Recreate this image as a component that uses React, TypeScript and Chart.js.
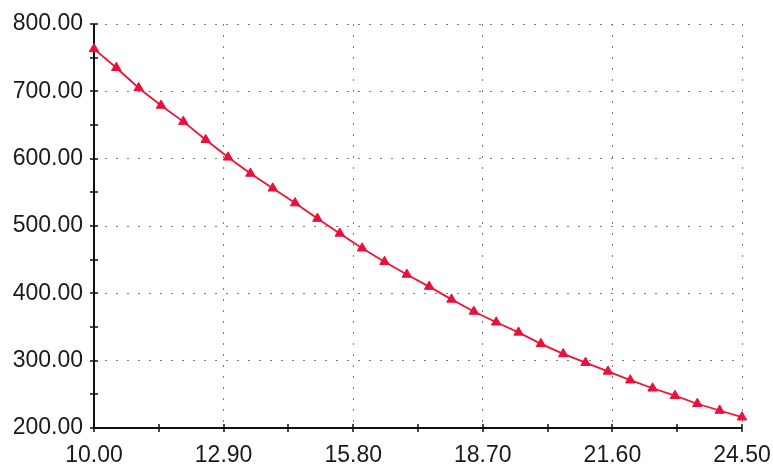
import React, { useEffect, useRef } from "react";
import { Chart, registerables } from "chart.js";

Chart.register(...registerables);

const xValues = [10, 10.5, 11, 11.5, 12, 12.5, 13, 13.5, 14, 14.5, 15, 15.5, 16, 16.5, 17, 17.5, 18, 18.5, 19, 19.5, 20, 20.5, 21, 21.5, 22, 22.5, 23, 23.5, 24, 24.5];
const yValues = [763, 735, 705, 679, 655, 628, 602, 578, 556, 534, 511, 489, 467, 447, 428, 410, 391, 373, 357, 342, 325, 310, 297, 284, 271, 259, 248, 236, 226, 216];
const xTicks = [10, 12.9, 15.8, 18.7, 21.6, 24.5];
const yTicks = [200, 300, 400, 500, 600, 700, 800];

const W = 773;
const H = 466;

const axisPlugin = {
  id: "axisPlugin",
  beforeDatasetsDraw(chart: any) {
    const { ctx, chartArea, scales } = chart;
    const xs = scales.x;
    const ys = scales.y;
    ctx.save();
    ctx.strokeStyle = "#111";
    ctx.lineWidth = 2;
    ctx.beginPath();
    ctx.moveTo(chartArea.left, chartArea.top);
    ctx.lineTo(chartArea.left, chartArea.bottom);
    ctx.lineTo(chartArea.right, chartArea.bottom);
    ctx.stroke();
    ctx.lineWidth = 1.5;
    const half = 4;
    const xv: number[] = [];
    for (let i = 0; i < xTicks.length; i++) {
      xv.push(xTicks[i]);
      if (i < xTicks.length - 1) xv.push((xTicks[i] + xTicks[i + 1]) / 2);
    }
    ctx.beginPath();
    for (const v of xv) {
      const px = Math.round(xs.getPixelForValue(v));
      ctx.moveTo(px, chartArea.bottom - half);
      ctx.lineTo(px, chartArea.bottom + half);
    }
    const yv: number[] = [];
    for (let i = 0; i < yTicks.length; i++) {
      yv.push(yTicks[i]);
      if (i < yTicks.length - 1) yv.push((yTicks[i] + yTicks[i + 1]) / 2);
    }
    for (const v of yv) {
      const py = Math.round(ys.getPixelForValue(v));
      ctx.moveTo(chartArea.left - half, py);
      ctx.lineTo(chartArea.left + half, py);
    }
    ctx.stroke();
    ctx.restore();
  },
};

const zeroPad = (s: any) => {
  s.paddingLeft = 0;
  s.paddingRight = 0;
  s.paddingTop = 0;
  s.paddingBottom = 0;
};

export default function App() {
  const ref = useRef<HTMLCanvasElement | null>(null);
  useEffect(() => {
    if (!ref.current) return;
    const font = { family: "'Liberation Sans', Arial, sans-serif", size: 23 };
    const chart = new Chart(ref.current, {
      type: "line",
      data: {
        datasets: [
          {
            data: xValues.map((x, i) => ({ x, y: yValues[i] })),
            borderColor: "#f21232",
            backgroundColor: "#e8103c",
            borderWidth: 1.8,
            pointStyle: "triangle",
            pointRadius: 5.5,
            pointBorderWidth: 1,
            pointBorderColor: "#e8103c",
            pointBackgroundColor: "#e8103c",
            tension: 0,
            clip: false,
          } as any,
        ],
      },
      options: {
        animation: false,
        responsive: false,
        maintainAspectRatio: false,
        layout: { padding: { left: 0, top: 24, right: 31, bottom: 0 } },
        plugins: { legend: { display: false }, tooltip: { enabled: false } },
        scales: {
          x: {
            type: "linear",
            min: 10,
            max: 24.5,
            afterBuildTicks: (s: any) => {
              s.ticks = xTicks.map((v) => ({ value: v }));
            },
            afterFit: (s: any) => {
              s.height = 38;
              zeroPad(s);
            },
            grid: { color: "#808080", lineWidth: 1, drawTicks: false },
            border: { display: false, dash: [2, 9] },
            ticks: {
              color: "#1a1a1a",
              font,
              padding: 14,
              maxRotation: 0,
              autoSkip: false,
              callback: (v: any) => Number(v).toFixed(2),
            },
          },
          y: {
            type: "linear",
            min: 200,
            max: 800,
            afterBuildTicks: (s: any) => {
              s.ticks = yTicks.map((v) => ({ value: v }));
            },
            afterFit: (s: any) => {
              s.width = 94;
              zeroPad(s);
            },
            grid: { color: "#808080", lineWidth: 1, drawTicks: false },
            border: { display: false, dash: [2, 9] },
            ticks: {
              color: "#1a1a1a",
              font,
              padding: 11,
              autoSkip: false,
              callback: (v: any) => Number(v).toFixed(2),
            },
          },
        },
      },
      plugins: [axisPlugin],
    });
    return () => chart.destroy();
  }, []);
  return (
    <div style={{ position: "fixed", left: 0, top: 0, width: W, height: H, background: "#fff" }}>
      <canvas ref={ref} width={W} height={H} style={{ width: W, height: H, display: "block" }} />
    </div>
  );
}
